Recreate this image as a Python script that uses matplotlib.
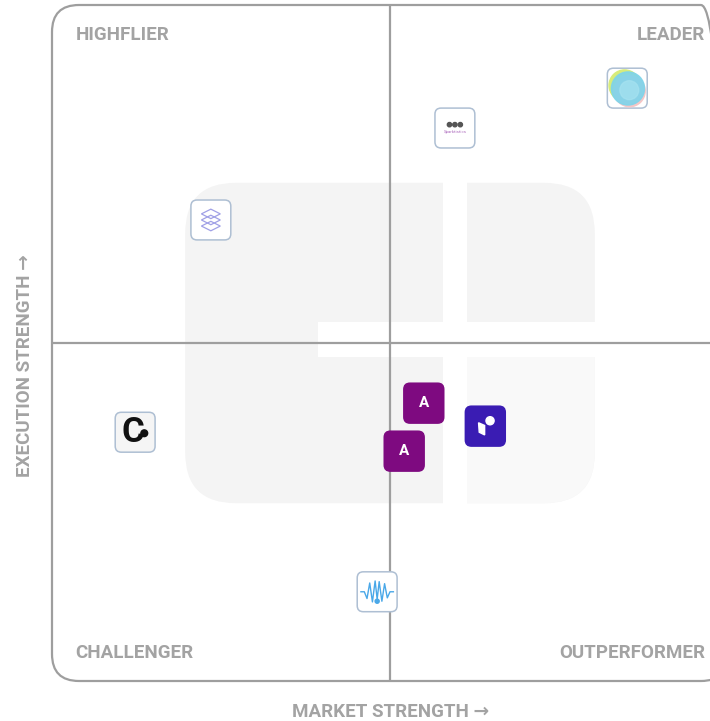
import matplotlib
matplotlib.use("Agg")
import matplotlib.pyplot as plt
import matplotlib.patches as patches

# vendor positions on the 0-100 market / execution grid
vendors = ["dots", "orb", "layers", "c-mark", "a-upper", "a-lower", "r-mark", "wave"]
market = [59.6, 85.1, 23.5, 12.3, 55.0, 52.1, 64.1, 48.1]
execution = [81.8, 87.7, 68.2, 36.8, 41.1, 34.0, 37.7, 13.2]

quadrants = ["HIGHFLIER", "LEADER", "CHALLENGER", "OUTPERFORMER"]
x_label = "MARKET STRENGTH \u2192"
y_label = "EXECUTION STRENGTH \u2192"

GRID = "#9e9e9e"
TXT = "#a3a3a3"
ICON_EDGE = "#aebfd3"
S = 5.9  # icon size in data units

plt.rcParams['font.family'] = ['Roboto', 'DejaVu Sans']

fig = plt.figure(figsize=(7.1, 7.21), dpi=100)
ax = fig.add_axes([52 / 710, 40 / 721, 676 / 710, 676 / 721])
ax.set_xlim(0, 100)
ax.set_ylim(0, 100)
ax.axis('off')

# watermark logo in the background
wm = patches.FancyBboxPatch((19.7, 26.3), 60.6, 47.4,
                            boxstyle="round,pad=0,rounding_size=7.5",
                            facecolor="#f4f4f4", edgecolor="none", zorder=0)
ax.add_patch(wm)
light = patches.Rectangle((61.4, 20), 25, 27.9, facecolor="#f9f9f9",
                          edgecolor="none", zorder=0.5)
ax.add_patch(light)
light.set_clip_path(wm)
ax.add_patch(patches.Rectangle((57.8, 20), 3.6, 60, facecolor="white",
                               edgecolor="none", zorder=1))
ax.add_patch(patches.Rectangle((39.3, 47.9), 45, 5.2, facecolor="white",
                               edgecolor="none", zorder=1))

# outer rounded frame and the quadrant dividers
frame = patches.FancyBboxPatch((0, 0), 100, 100,
                               boxstyle="round,pad=0,rounding_size=4",
                               facecolor="none", edgecolor=GRID, lw=1.6,
                               clip_on=False, zorder=2)
ax.add_patch(frame)
ax.plot([50, 50], [0, 100], color=GRID, lw=1.6, zorder=2, solid_capstyle='butt')
ax.plot([0, 100], [50, 50], color=GRID, lw=1.6, zorder=2, solid_capstyle='butt')

lab = dict(color=TXT, fontsize=13.5, fontweight='bold', va='center', zorder=3)
ax.text(3.5, 95.6, quadrants[0], ha='left', **lab)
ax.text(96.6, 95.6, quadrants[1], ha='right', **lab)
ax.text(3.5, 4.1, quadrants[2], ha='left', **lab)
ax.text(96.6, 4.1, quadrants[3], ha='right', **lab)

fig.text(25 / 710, 1 - 366 / 721, y_label, rotation=90, ha='center', va='center',
         color=TXT, fontsize=13.5, fontweight='bold')
fig.text(391 / 710, 1 - 712 / 721, x_label, ha='center', va='center',
         color=TXT, fontsize=13.5, fontweight='bold')


def tile(x, y, face, edge):
    ax.add_patch(patches.FancyBboxPatch((x - S / 2, y - S / 2), S, S,
                                        boxstyle="round,pad=0,rounding_size=0.9",
                                        facecolor=face, edgecolor=edge, lw=1.1,
                                        zorder=4))


for name, x, y in zip(vendors, market, execution):
    if name == "dots":
        tile(x, y, "white", ICON_EDGE)
        for dx in (-0.8, 0, 0.8):
            ax.add_patch(patches.Circle((x + dx, y + 0.5), 0.32, color="#555555", zorder=5))
        ax.text(x, y - 0.6, "Sparktistics", fontsize=3.2, ha='center', va='center',
                color="#b070c0", zorder=5)
    elif name == "orb":
        tile(x, y, "white", ICON_EDGE)
        ax.add_patch(patches.Circle((x - 0.4, y + 0.4), 2.3, color="#d8ec7a", zorder=5))
        ax.add_patch(patches.Circle((x + 0.35, y - 0.45), 2.3, color="#f4c6c6", zorder=5))
        ax.add_patch(patches.Circle((x + 0.1, y - 0.05), 2.45, color="#7fd4ea", alpha=0.92, zorder=6))
        ax.add_patch(patches.Circle((x + 0.3, y - 0.3), 1.4, color="#a6e2f0", alpha=0.7, zorder=7))
    elif name == "layers":
        tile(x, y, "white", ICON_EDGE)
        for dy in (0.9, 0, -0.9):
            ax.add_patch(patches.Polygon([(x - 1.4, y + dy), (x, y + dy + 0.7),
                                          (x + 1.4, y + dy), (x, y + dy - 0.7)],
                                         closed=True, facecolor="none",
                                         edgecolor="#a0a0e6", lw=0.9, zorder=5))
    elif name == "c-mark":
        tile(x, y, "#f5f5f5", ICON_EDGE)
        ax.text(x - 0.4, y - 0.1, "C", fontsize=25, fontweight='bold', ha='center',
                va='center', color="#111111", zorder=5)
        ax.add_patch(patches.Circle((x + 1.35, y - 0.15), 0.5, color="#111111", zorder=5))
    elif name.startswith("a-"):
        tile(x, y, "#7e0a80", "#7e0a80")
        ax.text(x, y, "A", fontsize=11, fontweight='bold', ha='center', va='center',
                color="white", zorder=5)
    elif name == "r-mark":
        tile(x, y, "#3a1cb3", "#3a1cb3")
        ax.add_patch(patches.Polygon([(x - 1.0, y + 0.5), (x - 0.1, y + 0.1),
                                      (x - 0.1, y - 1.3), (x - 0.9, y - 0.9)],
                                     closed=True, color="white", zorder=5))
        ax.add_patch(patches.Circle((x + 0.7, y + 0.8), 0.6, color="white", zorder=5))
    elif name == "wave":
        tile(x, y, "white", ICON_EDGE)
        wx = [-2.4, -1.9, -1.5, -1.1, -0.7, -0.3, 0.0, 0.3, 0.7, 1.1, 1.5, 1.9, 2.4]
        wy = [0.0, 0.0, -1.0, 1.3, -1.5, 1.6, -1.1, 1.5, -1.4, 1.2, -0.9, 0.0, 0.0]
        ax.plot([x + a for a in wx], [y + b for b in wy], color="#4aa8e8", lw=1.0, zorder=5)
        ax.add_patch(patches.Circle((x, y - 1.4), 0.3, color="#4aa8e8", zorder=5))

fig.savefig("out.png", dpi=100, facecolor="white")
